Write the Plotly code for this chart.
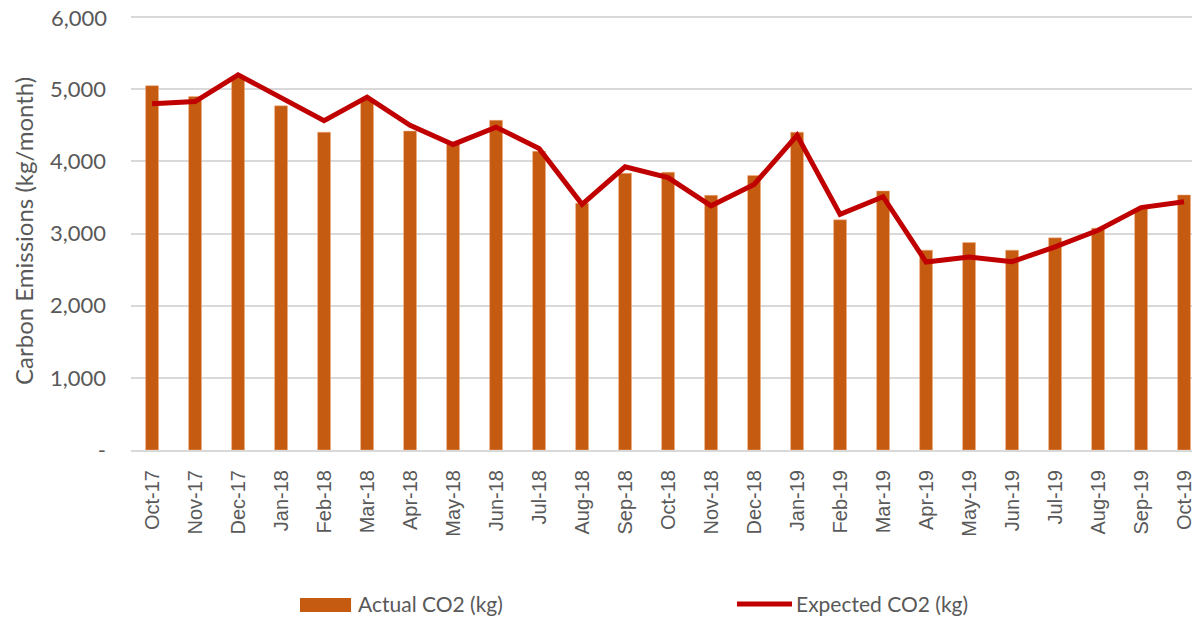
import plotly.graph_objects as go

months = ["Oct-17", "Nov-17", "Dec-17", "Jan-18", "Feb-18", "Mar-18", "Apr-18", "May-18",
          "Jun-18", "Jul-18", "Aug-18", "Sep-18", "Oct-18", "Nov-18", "Dec-18", "Jan-19",
          "Feb-19", "Mar-19", "Apr-19", "May-19", "Jun-19", "Jul-19", "Aug-19", "Sep-19", "Oct-19"]
actual_co2 = [5050, 4900, 5160, 4770, 4405, 4860, 4420, 4240, 4570, 4140, 3420, 3835, 3850,
              3530, 3805, 4405, 3190, 3590, 2770, 2875, 2770, 2940, 3075, 3340, 3535]
expected_co2 = [4800, 4830, 5200, 4880, 4565, 4890, 4500, 4235, 4475, 4180, 3405, 3925, 3775,
                3385, 3680, 4360, 3265, 3510, 2605, 2675, 2610, 2815, 3045, 3360, 3440]
y_ticks = [0, 1000, 2000, 3000, 4000, 5000, 6000]
y_tick_text = ["-", "1,000", "2,000", "3,000", "4,000", "5,000", "6,000"]

grey = "#595959"
bar_color = "#C55A11"
line_color = "#C00000"
tick_font = dict(family="Lato", size=22, color=grey)

fig = go.Figure()
fig.add_trace(go.Bar(
    x=months, y=actual_co2, name="Actual CO2 (kg)",
    marker=dict(color=bar_color, line=dict(color="#F4B183", width=0.5)),
))
fig.add_trace(go.Scatter(
    x=months, y=expected_co2, name="Expected CO2 (kg)", mode="lines",
    line=dict(color=line_color, width=5),
))

# legend drawn by hand so the swatches look like the Excel ones
fig.add_shape(type="rect", xref="paper", yref="paper", x0=0.1572, x1=0.2047, y0=-0.3733, y1=-0.341,
              fillcolor=bar_color, line=dict(width=0))
fig.add_shape(type="line", xref="paper", yref="paper", x0=0.5637, x1=0.6149, y0=-0.3548, y1=-0.3548,
              line=dict(color=line_color, width=5))
legend_font = dict(family="Lato", size=21, color=grey)
fig.add_annotation(text="Actual CO2 (kg)", xref="paper", yref="paper", x=0.2095, y=-0.3548,
                   xanchor="left", yanchor="middle", showarrow=False, font=legend_font)
fig.add_annotation(text="Expected CO2 (kg)", xref="paper", yref="paper", x=0.6170, y=-0.3548,
                   xanchor="left", yanchor="middle", showarrow=False, font=legend_font)
# axis title as an annotation, it sits closer to the edge than plotly would put it
fig.add_annotation(text="Carbon Emissions (kg/month)", xref="paper", yref="paper", x=-0.1, y=0.5035,
                   textangle=-90, xanchor="center", yanchor="middle", showarrow=False,
                   font=dict(family="Lato", size=24, color=grey))
# top tick label is dropped by plotly this close to the edge, so put it in by hand
fig.add_annotation(text=y_tick_text[-1], xref="paper", yref="y", x=-0.0205, y=y_ticks[-1],
                   xanchor="right", yanchor="middle", showarrow=False, font=tick_font)

# the page puts the figure 8px in from the corner, margins allow for that
fig.update_layout(
    width=1200, height=620,
    margin=dict(l=123, r=2, t=8, b=178),
    paper_bgcolor="white", plot_bgcolor="white",
    bargap=0.7, showlegend=False,
    font=dict(family="Lato, sans-serif", color=grey),
    xaxis=dict(
        type="category", range=[-0.49, 24.51], tickangle=-90, automargin=False,
        tickfont=dict(family="Liberation Sans", size=20, color=grey),
        showline=True, linecolor="#d9d9d9", linewidth=2,
        showgrid=False, ticks="", ticklabelstandoff=10,
    ),
    yaxis=dict(
        range=[0, 6015], tickvals=y_ticks, ticktext=y_tick_text[:-1] + [""], automargin=False,
        tickfont=tick_font,
        gridcolor="#d9d9d9", gridwidth=1.5, zeroline=False,
        ticks="", ticklabelstandoff=24,
    ),
)

fig.write_html("out.html")
